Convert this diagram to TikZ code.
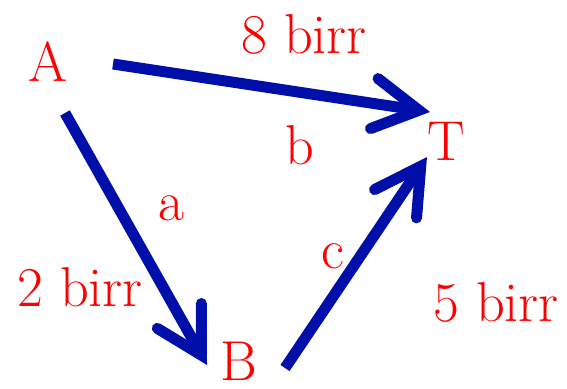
\documentclass[tikz,border=0pt]{standalone}
\usetikzlibrary{arrows.meta}
\definecolor{pathblue}{RGB}{0,14,170}
\begin{document}
\begin{tikzpicture}[x=0.03cm, y=-0.03cm,
    lbl/.style={text=red, font=\fontsize{48}{52}\selectfont, inner sep=0pt},
    road/.style={pathblue, line width=11*0.03cm,
      -{Straight Barb[length=0pt 4.1, width=0pt 4.6, line cap=round, line join=miter]}}]
    \useasboundingbox (0,0) rectangle (567,388);

    % Towns
    \node[lbl] (A) at (48,62) {A};
    \node[lbl] (T) at (446,141) {T};
    \node[lbl] (B) at (239,361) {B};

    % Road names and prices
    \node[lbl] (costb) at (304,34) {8 birr};
    \node[lbl] (nameb) at (300,145) {b};
    \node[lbl] (namea) at (171,208) {a};
    \node[lbl] (costa) at (80,287) {2 birr};
    \node[lbl] (namec) at (333,256) {c};
    \node[lbl] (costc) at (496,302) {5 birr};

    % Arrow ends
    \coordinate (A1) at (113,64);
    \coordinate (T1) at (430,112);
    \coordinate (A2) at (65,113);
    \coordinate (B2) at (207,365);
    \coordinate (B3) at (285,368);
    \coordinate (T3) at (427,157);

    % Roads
    \draw[road] (A1) -- (T1);
    \draw[road] (A2) -- (B2);
    \draw[road] (B3) -- (T3);
\end{tikzpicture}
\end{document}
